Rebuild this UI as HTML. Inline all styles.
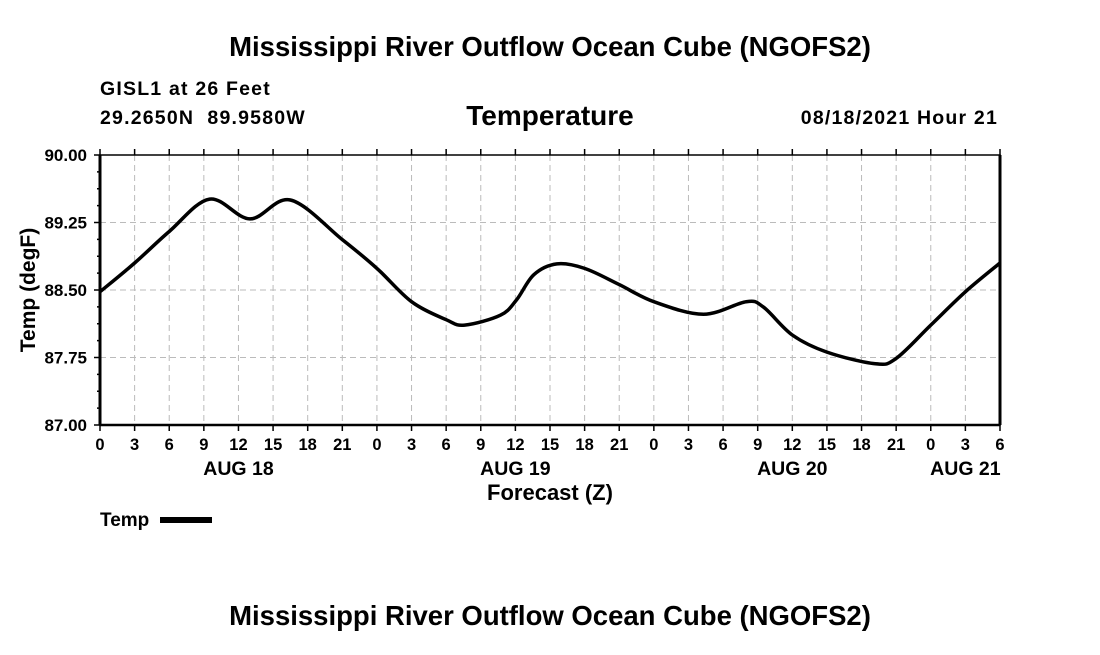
<!DOCTYPE html>
<html><head><meta charset="utf-8"><style>
body{margin:0;background:#fff}
svg text{font-family:"Liberation Sans",sans-serif;fill:#000}
</style></head><body>
<svg id="chart" width="1100" height="650" xmlns="http://www.w3.org/2000/svg">
<rect width="1100" height="650" fill="#fff"/>
<text x="550" y="56" font-size="27.5" font-weight="bold" text-anchor="middle">Mississippi River Outflow Ocean Cube (NGOFS2)</text>
<text x="100" y="95" font-size="19.5" font-weight="bold" letter-spacing="1.2">GISL1 at 26 Feet</text>
<text x="100" y="124" font-size="19.5" font-weight="bold" letter-spacing="1.2" style="white-space:pre">29.2650N  89.9580W</text>
<text x="550" y="125" font-size="28" font-weight="bold" text-anchor="middle">Temperature</text>
<text x="998" y="124" font-size="19.5" font-weight="bold" letter-spacing="1.2" text-anchor="end">08/18/2021 Hour 21</text>
<g id="grid"></g>
<g id="axes"></g>
<path id="line" fill="none" stroke="#000" stroke-width="3.5"/>
<text transform="translate(35,290) rotate(-90)" font-size="21" font-weight="bold" text-anchor="middle">Temp (degF)</text>
<text x="550" y="500" font-size="22" font-weight="bold" text-anchor="middle">Forecast (Z)</text>
<text x="100" y="526" font-size="19" font-weight="bold">Temp</text>
<line x1="160" y1="520" x2="212" y2="520" stroke="#000" stroke-width="6"/>
<text x="550" y="625" font-size="27.5" font-weight="bold" text-anchor="middle">Mississippi River Outflow Ocean Cube (NGOFS2)</text>
</svg>
<script>
const hours=[0,3,6,9.5,13,16.5,21,24,27,30,31.6,34.7,36.1,37.6,39.6,42,45,48,52.3,56,57.5,60,63,67.2,69,72,75,78];
const temps=[88.48,88.80,89.15,89.51,89.29,89.50,89.06,88.74,88.37,88.17,88.11,88.22,88.39,88.67,88.79,88.74,88.56,88.37,88.23,88.37,88.31,88.00,87.81,87.68,87.74,88.11,88.48,88.80];
const yTicks=[87.00,87.75,88.50,89.25,90.00];
const xTickLabels=["0","3","6","9","12","15","18","21","0","3","6","9","12","15","18","21","0","3","6","9","12","15","18","21","0","3","6"];
const dayLabels=["AUG 18","AUG 19","AUG 20","AUG 21"];
const dayHours=[12,36,60,75];
const L=100,R=1000,T=155,B=425,H0=0,H1=78,V0=87,V1=90;
const xs=h=>L+(h-H0)/(H1-H0)*(R-L);
const ys=v=>B-(v-V0)/(V1-V0)*(B-T);
const NS="http://www.w3.org/2000/svg";
function mk(tag,attrs,parent,txt){const e=document.createElementNS(NS,tag);for(const k in attrs)e.setAttribute(k,attrs[k]);if(txt!==undefined)e.textContent=txt;parent.appendChild(e);return e;}
const grid=document.getElementById('grid'),axes=document.getElementById('axes');
xTickLabels.forEach((t,i)=>{const x=xs(i*3);
 if(i>0&&i<xTickLabels.length-1){const g=mk('line',{x1:x,x2:x,y1:T,y2:B,stroke:'#bbb','stroke-dasharray':'6,4'},grid);
 
 }
 const tk=mk('line',{x1:x,x2:x,y1:B,y2:B+6,stroke:'#000','stroke-width':1.5},axes);
 
 
 const tk2=mk('line',{x1:x,x2:x,y1:T-6,y2:T,stroke:'#000','stroke-width':1.5},axes);
 
 
 const tl=mk('text',{x:x,y:B+25,'font-size':16.5,'font-weight':'bold','text-anchor':'middle'},axes,t);
 
 });
dayLabels.forEach((d,i)=>{const t=mk('text',{x:xs(dayHours[i]),y:B+50,'font-size':19.5,'font-weight':'bold','text-anchor':'middle'},axes,d);
 
 });
yTicks.forEach((v,i)=>{const y=ys(v);
 if(i>0&&i<yTicks.length-1){const g=mk('line',{x1:L,x2:R,y1:y,y2:y,stroke:'#bbb','stroke-dasharray':'6,4'},grid);
 
 }
 const tl=mk('text',{x:L-13,y:y+6,'font-size':17,'font-weight':'bold','text-anchor':'end'},axes,v.toFixed(2));
 
 
 const tk=mk('line',{x1:L-6,x2:L,y1:y,y2:y,stroke:'#000','stroke-width':1.5},axes);
 
 
 if(i<yTicks.length-1){for(let k=1;k<4;k++){const yy=ys(v+(yTicks[i+1]-v)*k/4);
  const m=mk('line',{x1:L-3,x2:L,y1:yy,y2:yy,stroke:'#000','stroke-width':1.5},axes);
  
  }}});
const fr=mk('rect',{x:L,y:T,width:R-L,height:B-T,fill:'none',stroke:'#000','stroke-width':1.5},axes);


const la=mk('line',{x1:L,x2:L,y1:T,y2:B,stroke:'#000','stroke-width':3},axes);


const ra=mk('line',{x1:R,x2:R,y1:T,y2:B,stroke:'#000','stroke-width':3},axes);


const ba=mk('line',{x1:L,x2:R,y1:B,y2:B,stroke:'#000','stroke-width':2.5},axes);


const P=hours.map((h,i)=>[xs(h),ys(temps[i])]);
let d=`M${P[0][0]},${P[0][1]}`;
for(let i=0;i<P.length-1;i++){const p0=P[Math.max(0,i-1)],p1=P[i],p2=P[i+1],p3=P[Math.min(P.length-1,i+2)];
 const c1=[p1[0]+(p2[0]-p0[0])/6,p1[1]+(p2[1]-p0[1])/6],c2=[p2[0]-(p3[0]-p1[0])/6,p2[1]-(p3[1]-p1[1])/6];
 d+=` C${c1[0]},${c1[1]} ${c2[0]},${c2[1]} ${p2[0]},${p2[1]}`;}
document.getElementById('line').setAttribute('d',d);
</script>
</body></html>
